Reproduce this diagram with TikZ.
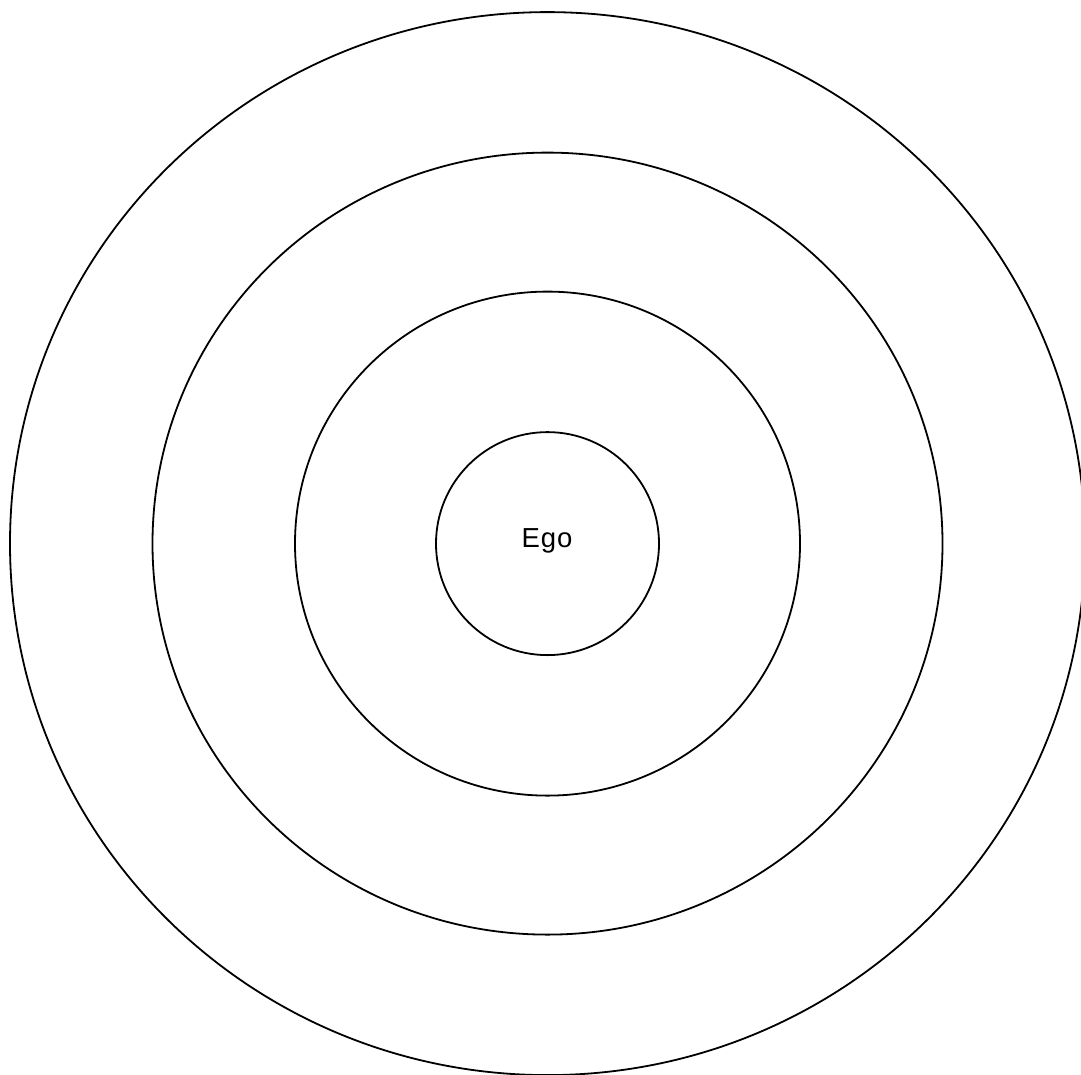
\documentclass[tikz,border=0pt]{standalone}
\usepackage{fontspec}
\setmainfont{Liberation Sans}
\usetikzlibrary{shapes.geometric}
\begin{document}
\begin{tikzpicture}[x=1pt,y=-1pt,
  ring/.style={draw=black, line width=1.8pt, ellipse, inner sep=0pt, outer sep=0pt, fill=none}]
\useasboundingbox[fill=white] (0,0) rectangle (1081,1074);
\node[ring, minimum width=1075pt, minimum height=1063pt] (r4) at (547.5,543.6) {};
\node[ring, minimum width=790pt, minimum height=782pt] (r3) at (547.5,543.6) {};
\node[ring, minimum width=505pt, minimum height=504pt] (r2) at (547.5,543.6) {};
\node[ring, minimum width=223pt, minimum height=223pt] (r1) at (547.5,543.6) {};
\node[font=\fontsize{27.5}{32}\selectfont, inner sep=0pt] (ego) at (547,541) {E\kern1pt g\kern1pt o};
\end{tikzpicture}
\end{document}
